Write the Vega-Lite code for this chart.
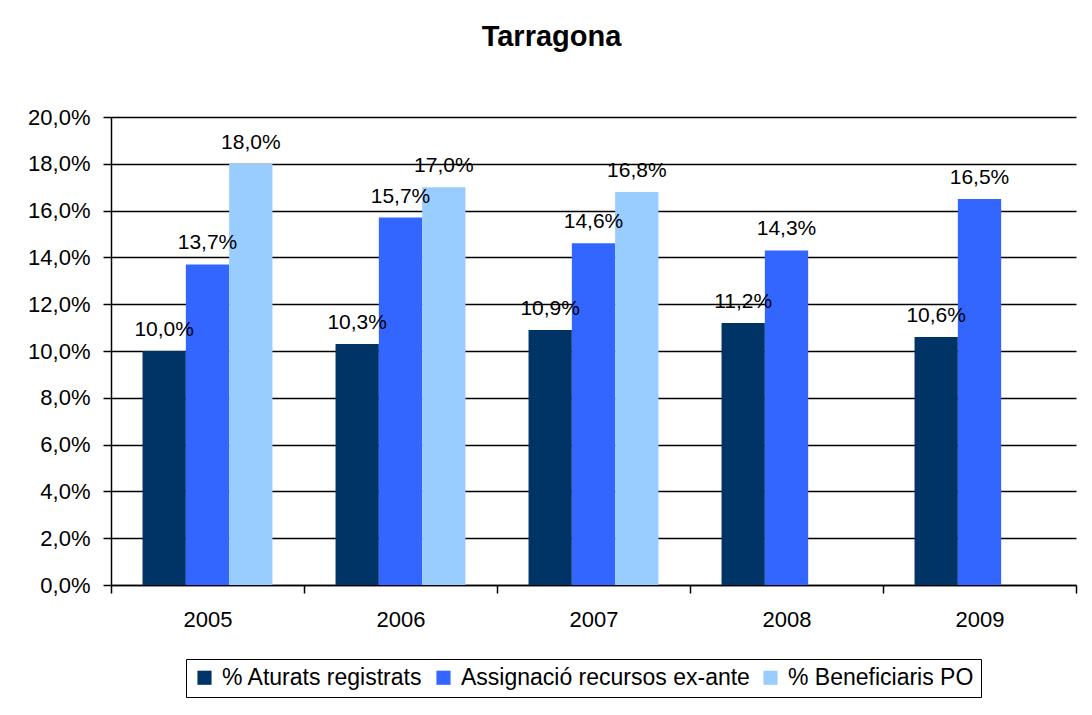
{
  "$schema": "https://vega.github.io/schema/vega-lite/v6.json",
  "autosize": "none",
  "width": 965,
  "height": 468,
  "padding": {"left": 111, "top": 117, "right": 16, "bottom": 130},
  "background": "white",
  "config": {
    "font": "Liberation Sans",
    "locale": {"number": {"decimal": ",", "thousands": ".", "grouping": [3], "currency": ["", " €"]}},
    "view": {"stroke": null}
  },
  "title": {
    "text": "Tarragona",
    "fontSize": 29,
    "fontWeight": "bold",
    "font": "Liberation Sans",
    "color": "black",
    "anchor": "middle",
    "frame": "group",
    "baseline": "alphabetic",
    "offset": 31,
    "dx": -42
  },
  "data": {
    "values": [
      {"year": "2005", "serie": "% Aturats registrats", "value": 0.100},
      {"year": "2005", "serie": "Assignació recursos ex-ante", "value": 0.137},
      {"year": "2005", "serie": "% Beneficiaris PO", "value": 0.180},
      {"year": "2006", "serie": "% Aturats registrats", "value": 0.103},
      {"year": "2006", "serie": "Assignació recursos ex-ante", "value": 0.157},
      {"year": "2006", "serie": "% Beneficiaris PO", "value": 0.170},
      {"year": "2007", "serie": "% Aturats registrats", "value": 0.109},
      {"year": "2007", "serie": "Assignació recursos ex-ante", "value": 0.146},
      {"year": "2007", "serie": "% Beneficiaris PO", "value": 0.168},
      {"year": "2008", "serie": "% Aturats registrats", "value": 0.112},
      {"year": "2008", "serie": "Assignació recursos ex-ante", "value": 0.143},
      {"year": "2009", "serie": "% Aturats registrats", "value": 0.106},
      {"year": "2009", "serie": "Assignació recursos ex-ante", "value": 0.165}
    ]
  },
  "encoding": {
    "x": {
      "field": "year",
      "type": "nominal",
      "scale": {"paddingInner": 0, "paddingOuter": 0},
      "axis": {
        "title": null,
        "labelAngle": 0,
        "labelFontSize": 22,
        "labelColor": "black",
        "labelPadding": 16,
        "domainColor": "black",
        "domainWidth": 1.5,
        "tickColor": "black",
        "tickWidth": 1.5,
        "tickSize": 8,
        "tickBand": "extent",
        "grid": false
      }
    },
    "xOffset": {
      "field": "serie",
      "type": "nominal",
      "sort": ["% Aturats registrats", "Assignació recursos ex-ante", "% Beneficiaris PO"],
      "scale": {"domain": ["% Aturats registrats", "Assignació recursos ex-ante", "% Beneficiaris PO"], "paddingInner": 0, "paddingOuter": 0.728}
    },
    "y": {
      "field": "value",
      "type": "quantitative",
      "scale": {"domain": [0, 0.2], "nice": false},
      "axis": {
        "title": null,
        "values": [0, 0.02, 0.04, 0.06, 0.08, 0.1, 0.12, 0.14, 0.16, 0.18, 0.2],
        "format": ".1%",
        "labelFontSize": 22,
        "labelColor": "black",
        "labelPadding": 13,
        "domainColor": "black",
        "domainWidth": 1.5,
        "tickColor": "black",
        "tickWidth": 1.5,
        "tickSize": 8,
        "grid": true,
        "gridColor": "black",
        "gridWidth": 1.5,
        "gridOpacity": 1
      }
    }
  },
  "layer": [
    {
      "mark": {"type": "bar"},
      "encoding": {
        "color": {
          "field": "serie",
          "type": "nominal",
          "sort": ["% Aturats registrats", "Assignació recursos ex-ante", "% Beneficiaris PO"],
          "scale": {
            "domain": ["% Aturats registrats", "Assignació recursos ex-ante", "% Beneficiaris PO"],
            "range": ["#003366", "#3366FF", "#99CCFF"]
          },
          "legend": {
            "title": null,
            "orient": "none",
            "direction": "horizontal",
            "legendX": 75,
            "legendY": 542,
            "symbolType": "square",
            "symbolSize": 200,
            "symbolStrokeWidth": 0,
            "symbolOpacity": 1,
            "labelFontSize": 23,
            "labelLimit": 500,
            "labelColor": "black",
            "labelOffset": 6,
            "columnPadding": 9,
            "strokeColor": "black",
            "padding": 7,
            "fillColor": "white"
          }
        }
      }
    },
    {
      "mark": {"type": "text", "baseline": "alphabetic", "dy": -15, "fontSize": 21, "color": "black"},
      "encoding": {
        "text": {"field": "value", "type": "quantitative", "format": ".1%"}
      }
    }
  ]
}
